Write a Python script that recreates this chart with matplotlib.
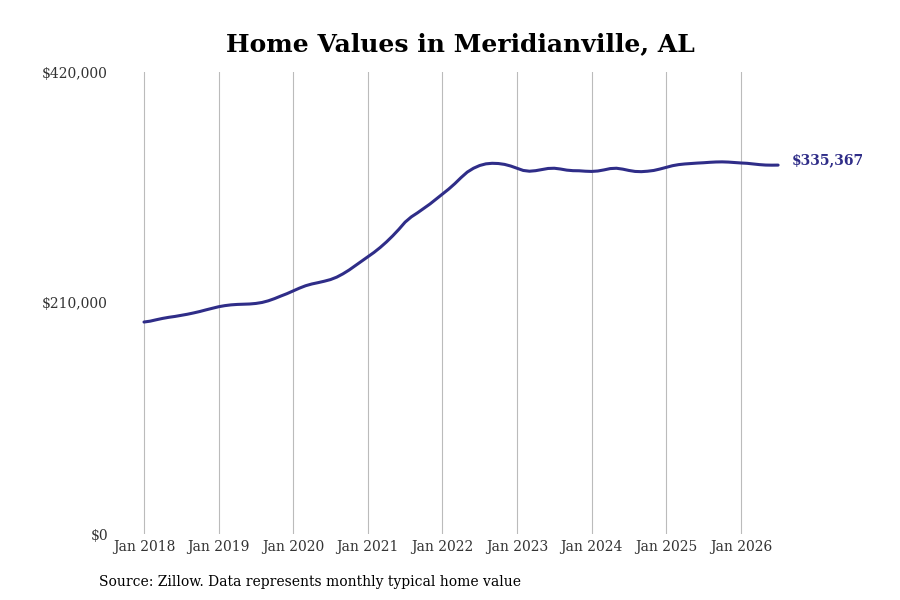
import matplotlib
matplotlib.use("Agg")
import matplotlib.pyplot as plt
import numpy as np

plt.rcParams['font.family'] = ['DejaVu Serif']

# monthly typical home value, Jan 2018 .. Jul 2026 (thousands of $)
values_k = [
    192.7, 193.5, 194.8, 196.0, 197.0, 197.8, 198.8, 199.8, 201.0, 202.3, 203.8, 205.2,  # 2018
    206.6, 207.6, 208.3, 208.7, 208.9, 209.1, 209.6, 210.5, 212.0, 214.0, 216.3, 218.5,  # 2019
    221.0, 223.5, 225.7, 227.3, 228.5, 229.8, 231.3, 233.5, 236.5, 240.0, 244.0, 248.0,  # 2020
    252.0, 256.0, 260.5, 265.5, 271.0, 277.0, 283.5, 288.3, 292.0, 296.0, 300.0, 304.5,  # 2021
    309.0, 313.5, 318.5, 324.0, 329.0, 332.5, 335.0, 336.5, 337.0, 336.8, 336.0, 334.5,  # 2022
    332.5, 330.5, 329.8, 330.3, 331.3, 332.3, 332.5, 331.8, 330.8, 330.3, 330.2, 329.8,  # 2023
    329.6, 330.0, 331.0, 332.2, 332.5, 331.7, 330.5, 329.6, 329.4, 329.8, 330.5, 331.8,  # 2024
    333.3, 334.8, 335.8, 336.4, 336.8, 337.2, 337.5, 337.9, 338.2, 338.3, 338.1, 337.7,  # 2025
    337.3, 337.0, 336.4, 335.8, 335.4, 335.3, 335.367,                                    # 2026
]
start_year = 2018
tick_years = list(range(2018, 2027))
tick_labels = [f"Jan {y}" for y in tick_years]
y_ticks = [0, 210000, 420000]
title = "Home Values in Meridianville, AL"
source = "Source: Zillow. Data represents monthly typical home value"
line_color = "#2f2d88"

values = np.array(values_k) * 1000
x = start_year + np.arange(len(values)) / 12

fig = plt.figure(figsize=(9, 6), dpi=100)
ax = fig.add_axes([115 / 900, 66 / 600, 665 / 900, 462 / 600])

ax.plot(x, values, color=line_color, linewidth=2.2, solid_capstyle='round')

ax.set_xlim(2018 - 29 / 74.6, 2018 + 636 / 74.6)
ax.set_ylim(0, 420000)
ax.set_xticks(tick_years)
ax.set_xticklabels(tick_labels, fontsize=10, color='#333333')
ax.set_yticks(y_ticks)
ax.set_yticklabels([f"${v:,.0f}" for v in y_ticks], fontsize=10, color='#333333')
ax.tick_params(length=0)
ax.tick_params(axis='x', pad=4)
ax.tick_params(axis='y', pad=5)
ax.grid(axis='x', color='#bbbbbb', linewidth=0.8)
ax.set_axisbelow(True)
for s in ax.spines.values():
    s.set_visible(False)

ax.annotate(f"${values[-1]:,.0f}", xy=(x[-1], values[-1]), xytext=(10, 3.5),
            textcoords='offset points', va='center', ha='left',
            fontsize=10, fontweight='bold', color=line_color)

fig.text(0.512, 0.927, title, ha='center', va='center', fontsize=18, fontweight='bold')
fig.text(99 / 900, 1 - 582 / 600, source, ha='left', va='center', fontsize=10)

fig.savefig("out.png", dpi=100)
